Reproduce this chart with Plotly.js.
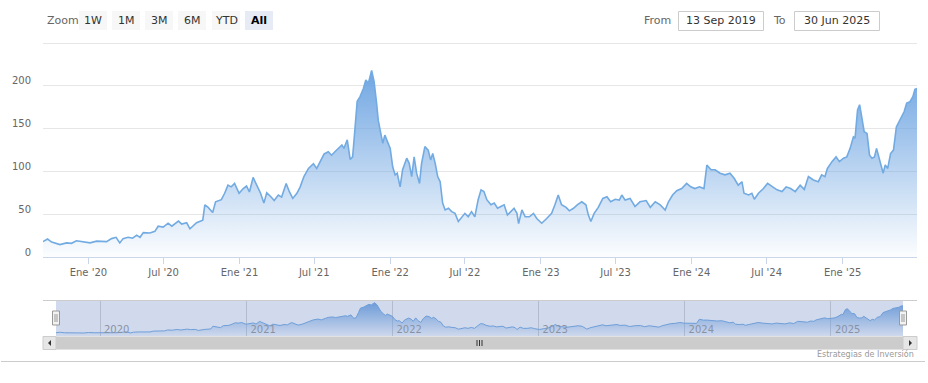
<!DOCTYPE html>
<html>
<head>
<meta charset="utf-8">
<script src="https://cdn.plot.ly/plotly-3.0.1.min.js"></script>
<style>
html,body{margin:0;padding:0;background:#fff;}
#chart{width:928px;height:383px;}
</style>
</head>
<body>
<div id="chart"></div>
<script>
// ---- data ----
const dates = [
'2019-09-13','2019-09-24','2019-10-04','2019-10-24','2019-11-09','2019-11-21','2019-12-03','2019-12-19',
'2020-01-05','2020-01-21','2020-02-14','2020-02-26','2020-03-08','2020-03-17','2020-03-25','2020-04-06','2020-04-17','2020-04-27',
'2020-05-05','2020-05-13','2020-05-29','2020-06-10','2020-06-18','2020-06-30','2020-07-12','2020-07-21','2020-08-06','2020-08-14',
'2020-08-26','2020-09-03','2020-09-19','2020-10-04','2020-10-09','2020-10-17','2020-10-28','2020-11-04','2020-11-18','2020-11-26',
'2020-12-04','2020-12-12','2020-12-20','2020-12-31',
'2021-01-10','2021-01-18','2021-01-25','2021-02-03','2021-02-11','2021-02-21','2021-03-01','2021-03-08','2021-03-18','2021-03-26',
'2021-04-05','2021-04-13','2021-04-24','2021-05-02','2021-05-10','2021-05-20','2021-05-28','2021-06-06','2021-06-17','2021-06-29',
'2021-07-07','2021-07-17','2021-07-25','2021-08-04','2021-08-12','2021-08-20','2021-08-28','2021-09-06','2021-09-11','2021-09-19',
'2021-09-26','2021-10-02','2021-10-08','2021-10-13','2021-10-20','2021-10-28','2021-11-03','2021-11-09','2021-11-17','2021-11-23',
'2021-11-29','2021-12-03','2021-12-09','2021-12-14','2021-12-19','2021-12-25',
'2022-01-01','2022-01-07','2022-01-13','2022-01-18','2022-01-25','2022-01-31','2022-02-10','2022-02-16','2022-02-22','2022-02-28',
'2022-03-06','2022-03-13','2022-03-18','2022-03-26','2022-04-03','2022-04-09','2022-04-14','2022-04-20','2022-04-26','2022-05-02',
'2022-05-08','2022-05-14','2022-05-22','2022-05-30','2022-06-07','2022-06-15','2022-06-23','2022-07-01','2022-07-09','2022-07-17',
'2022-07-25','2022-08-02','2022-08-09','2022-08-16','2022-08-23','2022-09-02','2022-09-10','2022-09-18','2022-09-26','2022-10-04',
'2022-10-12','2022-10-20','2022-10-28','2022-11-04','2022-11-08','2022-11-16','2022-11-24','2022-12-04','2022-12-14','2022-12-22',
'2023-01-03','2023-01-15','2023-01-27','2023-02-04','2023-02-12','2023-02-20','2023-03-03','2023-03-11','2023-03-21','2023-03-30',
'2023-04-10','2023-04-20','2023-04-26','2023-05-02','2023-05-10','2023-05-20','2023-05-31','2023-06-10','2023-06-19','2023-06-30',
'2023-07-10','2023-07-16','2023-07-24','2023-08-05','2023-08-17','2023-08-29','2023-09-13','2023-09-23','2023-10-05','2023-10-17',
'2023-10-29','2023-11-06','2023-11-16','2023-11-26','2023-12-08','2023-12-20','2023-12-30',
'2024-01-09','2024-01-20','2024-01-31','2024-02-07','2024-02-17','2024-02-27','2024-03-10','2024-03-22','2024-04-03','2024-04-13',
'2024-04-23','2024-05-02','2024-05-07','2024-05-18','2024-05-26','2024-06-01','2024-06-11','2024-06-23','2024-07-03','2024-07-14',
'2024-07-26','2024-08-07','2024-08-17','2024-08-28','2024-09-08','2024-09-20','2024-09-30','2024-10-10','2024-10-22','2024-11-03',
'2024-11-11','2024-11-19','2024-11-25','2024-12-06','2024-12-16','2024-12-24',
'2025-01-03','2025-01-11','2025-01-19','2025-01-27','2025-01-31','2025-02-06','2025-02-11','2025-02-16','2025-02-22','2025-03-01',
'2025-03-07','2025-03-13','2025-03-19','2025-03-24','2025-03-29','2025-04-04','2025-04-09','2025-04-14','2025-04-20','2025-04-27',
'2025-05-04','2025-05-11','2025-05-20','2025-05-30','2025-06-05','2025-06-13','2025-06-20','2025-06-25','2025-06-30'
];
const values = [
18,21,17.5,14.5,16.5,16,19,17.5,
16.5,18.5,18,21.5,23,16.5,21.5,23,22,25.5,
23,28.5,28,30,36,35,39.5,36,42,38.5,
40,33,40,43,61,58,52,64.5,67,74.5,
84,82,86,74.5,
80,83,76,93,84,74.5,63,75,70.5,66,
72.5,70,86,76,68.5,74.5,82,94,103.5,109,
103.5,113.5,120.5,123,119,123,127,131,127,137,
114,117,152,182,187.5,197,207,203,218,205,
180,160,145,133,142.5,135,
127,105.5,96,98,82,102,115.5,109.5,94,117,
98,86,109.5,129,125,113.5,121,109.5,94,88,
63,55,57,53,51,41.5,47,51,47,53,
47,67,78.5,76.5,67,61,63,57,59,61,
49,53,57,51,39,55,47,47,51,45,
39.5,45,51,61,72.5,61,58,54,57,61,
64.5,61,49,41.5,51,58,68.5,70.5,64.5,67.5,
66.5,72.5,66.5,68.5,59,64.5,66,58,64.5,61,
55,64.5,72.5,77.5,80,86,82,
80,82,80,107.5,102,102,98,96,98,92,
84,88,74.5,72.5,74.5,67.5,74.5,80,86,82,
78.5,76.5,82,80,76.5,84,79,94,90,88,
96,94,103.5,111.5,117,111.5,
115.5,117,127,140.5,139,172,178,164,146.5,144.5,
119,115.5,117,127,117,107.5,98,107.5,103.5,121,
125,152,160,170,180,181.5,187.5,196,197
];
const xRange = ['2019-09-13','2025-06-30'];
const yTickVals = [0,50,100,150,200,250];
const yTickText = ['0','50','100','150','200',''];
const xTickVals = ['2020-01-01','2020-07-01','2021-01-01','2021-07-01','2022-01-01','2022-07-01','2023-01-01','2023-07-01','2024-01-01','2024-07-01','2025-01-01'];
const xTickText = ["Ene '20","Jul '20","Ene '21","Jul '21","Ene '22","Jul '22","Ene '23","Jul '23","Ene '24","Jul '24","Ene '25"];
const navTickVals = ['2020-01-01','2021-01-01','2022-01-01','2023-01-01','2024-01-01','2025-01-01'];
const navTickText = ['2020','2021','2022','2023','2024','2025'];
const zoomButtons = ['1W','1M','3M','6M','YTD','All'];
const fromText = '13 Sep 2019';
const toText = '30 Jun 2025';
const creditText = 'Estrategias de Inversión';

// ---- layout helpers (pixel -> paper) ----
const W = 928, H = 383;
const X = p => p / W;
const Y = p => 1 - p / H;
const FONT = 'DejaVu Sans, Verdana, sans-serif';

const mainColor = 'rgb(114,170,226)';

const traces = [
  {
    x: dates, y: values, type: 'scatter', mode: 'lines',
    line: {color: mainColor, width: 1.6},
    fill: 'tozeroy',
    fillgradient: {type: 'vertical', start: 0, stop: 218,
      colorscale: [[0, 'rgba(112,166,226,0.02)'], [1, 'rgba(112,166,226,1)']]},
    xaxis: 'x', yaxis: 'y', hoverinfo: 'skip', showlegend: false
  },
  {
    x: dates, y: values, type: 'scatter', mode: 'lines',
    line: {color: mainColor, width: 1},
    fill: 'tozeroy',
    fillgradient: {type: 'vertical', start: 0, stop: 218,
      colorscale: [[0, 'rgba(112,166,226,0.05)'], [1, 'rgba(112,166,226,1)']]},
    xaxis: 'x2', yaxis: 'y2', hoverinfo: 'skip', showlegend: false
  }
];

const shapes = [];
const annotations = [];

// zoom buttons
const btnLeft = [79, 112, 145, 178, 212, 245];
zoomButtons.forEach((b, i) => {
  const sel = b === 'All';
  shapes.push({type: 'rect', xref: 'paper', yref: 'paper', x0: X(btnLeft[i]), x1: X(btnLeft[i] + 28), y0: Y(11), y1: Y(30),
    fillcolor: sel ? '#e6ebf5' : '#f7f7f7', line: {width: 0}, layer: 'above'});
  annotations.push({xref: 'paper', yref: 'paper', x: X(btnLeft[i] + 14), y: Y(20.5), text: sel ? '<b>' + b + '</b>' : b,
    showarrow: false, xanchor: 'center', yanchor: 'middle', font: {family: FONT, size: 11, color: sel ? '#000' : '#333'}});
});
annotations.push({xref: 'paper', yref: 'paper', x: X(45), y: Y(20.5), text: 'Zoom', showarrow: false,
  xanchor: 'left', yanchor: 'middle', font: {family: FONT, size: 11, color: '#666'}});

// From / To inputs
annotations.push({xref: 'paper', yref: 'paper', x: X(673), y: Y(20.5), text: 'From', showarrow: false,
  xanchor: 'right', yanchor: 'middle', font: {family: FONT, size: 11, color: '#666'}});
shapes.push({type: 'rect', xref: 'paper', yref: 'paper', x0: X(678.5), x1: X(763.5), y0: Y(11.5), y1: Y(30.5),
  fillcolor: '#fff', line: {width: 1, color: '#cccccc'}, layer: 'above'});
annotations.push({xref: 'paper', yref: 'paper', x: X(721), y: Y(20.5), text: fromText, showarrow: false,
  xanchor: 'center', yanchor: 'middle', font: {family: FONT, size: 11, color: '#333'}});
annotations.push({xref: 'paper', yref: 'paper', x: X(788), y: Y(20.5), text: 'To', showarrow: false,
  xanchor: 'right', yanchor: 'middle', font: {family: FONT, size: 11, color: '#666'}});
shapes.push({type: 'rect', xref: 'paper', yref: 'paper', x0: X(794.5), x1: X(879.5), y0: Y(11.5), y1: Y(30.5),
  fillcolor: '#fff', line: {width: 1, color: '#cccccc'}, layer: 'above'});
annotations.push({xref: 'paper', yref: 'paper', x: X(837), y: Y(20.5), text: toText, showarrow: false,
  xanchor: 'center', yanchor: 'middle', font: {family: FONT, size: 11, color: '#333'}});

// navigator mask + outline
shapes.push({type: 'rect', xref: 'paper', yref: 'paper', x0: X(56), x1: X(903), y0: Y(300), y1: Y(336),
  fillcolor: 'rgba(102,133,194,0.3)', line: {width: 0}, layer: 'above'});
shapes.push({type: 'line', xref: 'paper', yref: 'paper', x0: X(43), x1: X(917), y0: Y(300.5), y1: Y(300.5),
  line: {width: 1, color: '#cccccc'}, layer: 'above'});
// handles
[56, 903].forEach(cx => {
  shapes.push({type: 'rect', xref: 'paper', yref: 'paper', x0: X(cx - 3.5), x1: X(cx + 3.5), y0: Y(311), y1: Y(325),
    fillcolor: '#f2f2f2', line: {width: 1, color: '#999999'}, layer: 'above'});
  [cx - 1, cx + 1].forEach(lx => shapes.push({type: 'line', xref: 'paper', yref: 'paper', x0: X(lx), x1: X(lx), y0: Y(314), y1: Y(322),
    line: {width: 1, color: '#999999'}, layer: 'above'}));
});

// scrollbar
shapes.push({type: 'rect', xref: 'paper', yref: 'paper', x0: X(43), x1: X(917), y0: Y(336.5), y1: Y(349.5),
  fillcolor: '#f2f2f2', line: {width: 0}, layer: 'above'});
shapes.push({type: 'rect', xref: 'paper', yref: 'paper', x0: X(56), x1: X(903), y0: Y(336.5), y1: Y(349.5),
  fillcolor: '#cccccc', line: {width: 0}, layer: 'above'});
[[43, 56], [903, 917]].forEach(([a, b]) => {
  shapes.push({type: 'rect', xref: 'paper', yref: 'paper', x0: X(a), x1: X(b), y0: Y(336.5), y1: Y(349.5),
    fillcolor: '#e6e6e6', line: {width: 1, color: '#cccccc'}, layer: 'above'});
});
shapes.push({type: 'path', xref: 'paper', yref: 'paper',
  path: `M ${X(48)} ${Y(343)} L ${X(51)} ${Y(340)} L ${X(51)} ${Y(346)} Z`, fillcolor: '#333', line: {width: 0}, layer: 'above'});
shapes.push({type: 'path', xref: 'paper', yref: 'paper',
  path: `M ${X(912)} ${Y(343)} L ${X(909)} ${Y(340)} L ${X(909)} ${Y(346)} Z`, fillcolor: '#333', line: {width: 0}, layer: 'above'});
[477, 479.5, 482].forEach(gx => shapes.push({type: 'line', xref: 'paper', yref: 'paper', x0: X(gx), x1: X(gx), y0: Y(340), y1: Y(346),
  line: {width: 1, color: '#333'}, layer: 'above'}));

// bottom line + credits
shapes.push({type: 'line', xref: 'paper', yref: 'paper', x0: X(1), x1: X(925), y0: Y(361.5), y1: Y(361.5),
  line: {width: 1, color: '#cccccc'}, layer: 'above'});
annotations.push({xref: 'paper', yref: 'paper', x: X(916), y: Y(354), text: creditText, showarrow: false,
  xanchor: 'right', yanchor: 'middle', font: {family: FONT, size: 8, color: '#999'}});

const layout = {
  width: W, height: H,
  margin: {l: 0, r: 0, t: 0, b: 0},
  paper_bgcolor: '#fff', plot_bgcolor: 'rgba(0,0,0,0)',
  font: {family: FONT, size: 10, color: '#666'},
  showlegend: false,
  xaxis: {
    domain: [X(43), X(917)], range: xRange, type: 'date', anchor: 'y',
    tickvals: xTickVals, ticktext: xTickText, tickfont: {family: FONT, size: 10, color: '#666'},
    showgrid: false, showline: true, linecolor: '#ccd6eb', linewidth: 1,
    ticks: 'outside', ticklen: 6, tickcolor: '#ccd6eb', zeroline: false, fixedrange: true
  },
  yaxis: {
    domain: [Y(257), Y(41)], range: [0, 252.5], anchor: 'x',
    tickvals: yTickVals, ticktext: yTickText, tickfont: {family: FONT, size: 10, color: '#666'},
    showgrid: true, gridcolor: '#e6e6e6', gridwidth: 1, zeroline: false, showline: false,
    ticks: '', ticklabelstandoff: 11, ticklabelshift: -5, fixedrange: true
  },
  xaxis2: {
    domain: [X(56), X(903)], range: xRange, type: 'date', anchor: 'free', position: Y(341),
    tickvals: navTickVals, ticktext: navTickText, tickfont: {family: FONT, size: 10, color: '#999'},
    ticklabelposition: 'inside right', ticks: '', ticklabelshift: 4,
    showgrid: true, gridcolor: '#d4d4d4', gridwidth: 1, showline: false, zeroline: false, fixedrange: true
  },
  yaxis2: {
    domain: [Y(336), Y(300)], range: [-4, 236], anchor: 'x2', visible: false, showgrid: false, zeroline: false, fixedrange: true
  },
  shapes: shapes,
  annotations: annotations
};

Plotly.newPlot('chart', traces, layout, {displayModeBar: false, staticPlot: true});
</script>
</body>
</html>
